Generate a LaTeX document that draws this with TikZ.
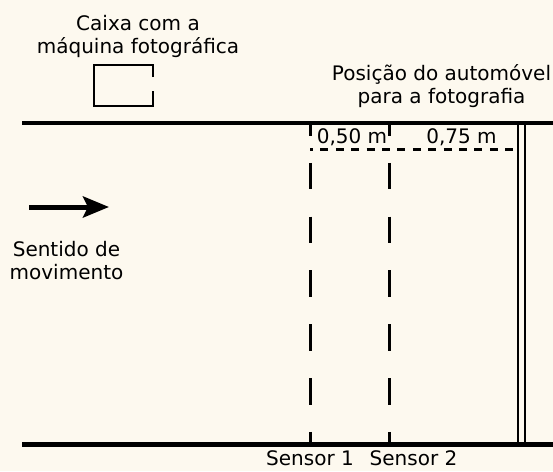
\documentclass[tikz,border=0pt]{standalone}
\usepackage{fontspec}
\setmainfont{DejaVu Sans}
\usepackage{tikz}
\usetikzlibrary{positioning, calc, arrows.meta}
\definecolor{paper}{RGB}{253,249,239}

\begin{document}
\begin{tikzpicture}[x=1pt, y=-1pt]
\tikzstyle{txt}=[font=\fontsize{20}{23}\selectfont, inner sep=0pt]
\tikzstyle{txtc}=[txt, align=center]
\tikzstyle{road}=[line width=4.5pt]
\tikzstyle{sensor}=[line width=3pt, dash pattern=on 26.5pt off 27.3pt, dash phase=15pt]
\tikzstyle{marker}=[line width=3pt, dash pattern=on 8pt off 7.4pt, dash phase=5pt]
\tikzstyle{stopline}=[line width=2pt, double=paper, double distance=4.7pt]

% background
\fill[paper] (0,0) rectangle (553,471);
\useasboundingbox (0,0) rectangle (553,471);

% position of the car
\coordinate (stoptop) at (521.7,123);
\coordinate (stopbot) at (521.7,444.5);
\draw[stopline] (stoptop) -- (stopbot);
\coordinate (markL) at (310,149.5);
\coordinate (markR) at (517,149.5);
\draw[marker] (markL) -- (markR);

% road
\coordinate (roadtopL) at (22,123);
\coordinate (roadtopR) at (553,123);
\coordinate (roadbotL) at (22,444.5);
\coordinate (roadbotR) at (553,444.5);
\draw[road] (roadtopL) -- (roadtopR);
\draw[road] (roadbotL) -- (roadbotR);

% sensors
\coordinate (s1top) at (310,124);
\coordinate (s1bot) at (310,442);
\coordinate (s2top) at (389.5,124);
\coordinate (s2bot) at (389.5,442);
\draw[sensor] (s1top) -- (s1bot);
\draw[sensor] (s2top) -- (s2bot);

% camera box
\draw[line width=2.5pt] (153,77) |- (94,65) |- (153,106) -- (153,91);

% direction
\coordinate (dirtail) at (29,207);
\coordinate (dirtip) at (109,207);
\draw[line width=5pt, -{Stealth[length=26pt, width=21pt, inset=5pt]}] (dirtail) -- (dirtip);

% texts
\node (camera) [txtc] at (138,36) {Caixa com a\\máquina fotográfica};
\node (carpos) [txtc] at (441.5,86) {Posição do automóvel\\para a fotografia};
\node (dir) [txtc] at (66.5,261) {Sentido de\\movimento};
\node (d1) [txt, anchor=base] at (352,143) {0,50 m};
\node (d2) [txt, anchor=base] at (461.5,143) {0,75 m};
\node (sens1) [txt, anchor=base] at (310,465.5) {Sensor 1};
\node (sens2) [txt, anchor=base] at (413.5,465.5) {Sensor 2};

\end{tikzpicture}
\end{document}
